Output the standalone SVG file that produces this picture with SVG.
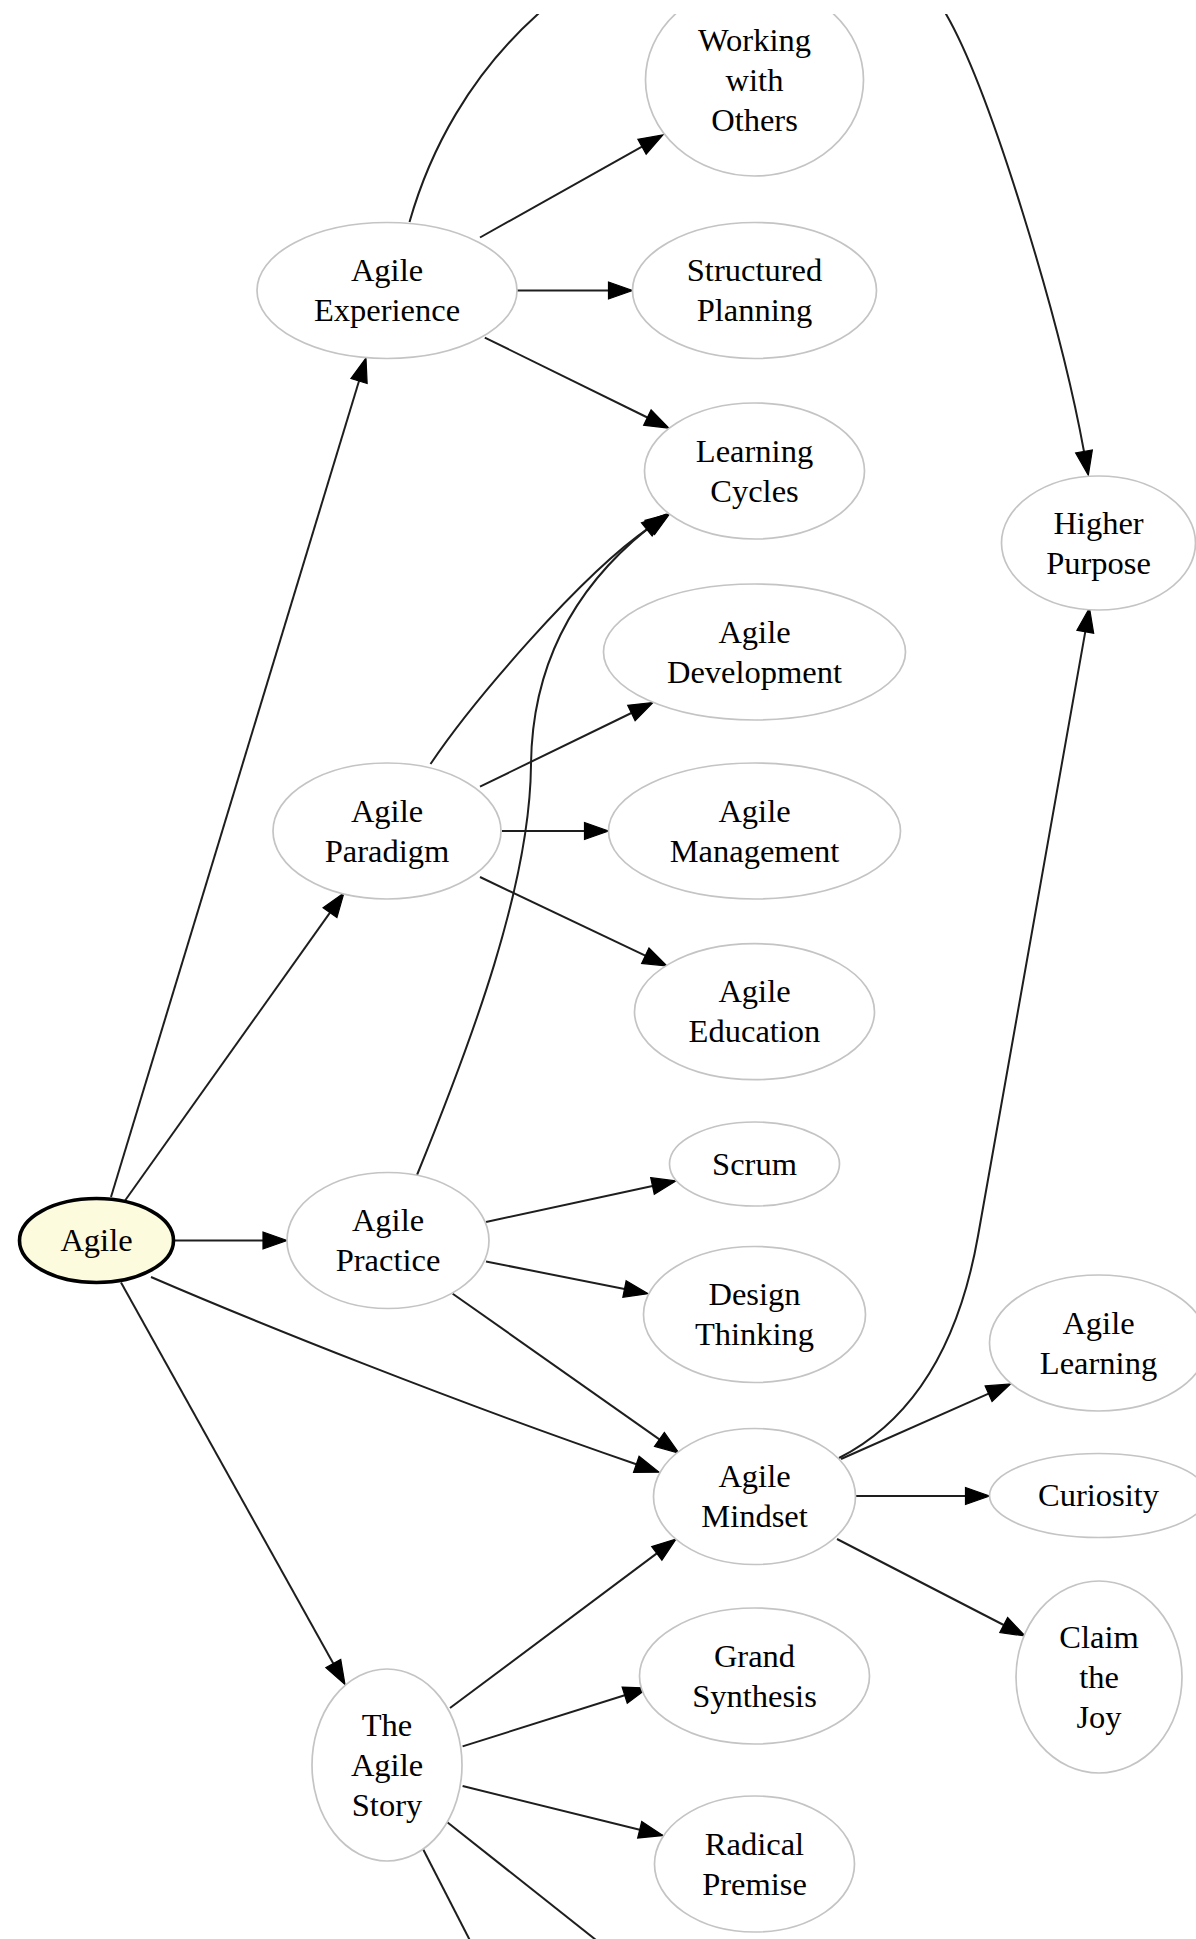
<svg xmlns="http://www.w3.org/2000/svg" width="1196" height="1939" viewBox="0 0 1196 1939">
  <style>
    .node ellipse { fill: #ffffff; stroke: #c4c4c4; stroke-width: 1.7; }
    .node.root ellipse { fill: #fdfbdd; stroke: #000000; stroke-width: 3.6; }
    .node text { font-family: "Liberation Serif", "Times New Roman", serif; font-size: 32.5px; fill: #000000; text-anchor: middle; }
    .edge { fill: none; stroke: #1e1e1e; stroke-width: 2; }
    .edge.arrow { marker-end: url(#ah); }
  </style>
  <defs>
    <marker id="ah" viewBox="0 0 24 17" refX="0" refY="8.5" markerWidth="24" markerHeight="17" markerUnits="userSpaceOnUse" orient="auto" overflow="visible">
      <path d="M0,0 L24,8.5 L0,17 Z" fill="#000000" stroke="#000000" stroke-width="1.2" stroke-linejoin="miter"/>
    </marker>
    <clipPath id="page">
      <rect x="0" y="14" width="1196" height="1925"/>
    </clipPath>
  </defs>
  <rect x="0" y="0" width="1196" height="1939" fill="#ffffff"/>

  <g clip-path="url(#page)">
    <!-- connectors -->
    <g id="edges">
      <path class="edge arrow" d="M111,1197 L359,381"/>
      <path class="edge arrow" d="M124,1202 L330,912.6"/>
      <path class="edge arrow" d="M173.5,1240.5 L263,1240.5"/>
      <path class="edge arrow" d="M151,1277 C260,1324 450,1400 636.3,1464.3"/>
      <path class="edge arrow" d="M121,1282.6 L333.3,1663.5"/>
      <path class="edge arrow" d="M480,237.5 L642,146.7"/>
      <path class="edge arrow" d="M517,290.5 L608.5,290.5"/>
      <path class="edge arrow" d="M484.8,337.6 L647.4,417.5"/>
      <!-- long arc over the top of the sheet -->
      <path class="edge arrow" d="M409.5,222 C430,150 470,75 538,14 C568,-13 926,-21 946,14 C990,90 1060,320 1084,451.5"/>
      <path class="edge arrow" d="M430.5,764 C470,705 580,575 649.8,527.4"/>
      <path class="edge arrow" d="M480,786.6 L631.4,713"/>
      <path class="edge arrow" d="M502,831 L584.5,831"/>
      <path class="edge arrow" d="M480,877 L645.3,955.7"/>
      <path class="edge arrow" d="M417,1175 C472,1040 530,885 531,765 C532,660 578,585 646.8,529.4"/>
      <path class="edge arrow" d="M486,1222 L652.5,1186"/>
      <path class="edge arrow" d="M486,1261.5 L624.5,1289"/>
      <path class="edge arrow" d="M452.7,1293.7 L659.4,1439.4"/>
      <path class="edge arrow" d="M839,1458 C920.8,1416.4 960.6,1334.5 978,1236 L1085.3,631.7"/>
      <path class="edge arrow" d="M841,1459 L988.6,1393.7"/>
      <path class="edge arrow" d="M855.8,1496 L965.5,1496"/>
      <path class="edge arrow" d="M837,1539 L1003.7,1625"/>
      <path class="edge arrow" d="M450,1708 L656.8,1553.4"/>
      <path class="edge arrow" d="M462.6,1746.4 L624.7,1695.2"/>
      <path class="edge arrow" d="M462.6,1786 L639.7,1829.7"/>
      <path class="edge" d="M423,1849 L480,1960"/>
      <path class="edge" d="M447,1822 L620,1959"/>
    </g>

    <!-- nodes -->
    <g id="node-agile" class="node root">
      <ellipse cx="96.5" cy="1240.5" rx="77" ry="42"/>
      <text x="96.5" y="1251">Agile</text>
    </g>
    <g id="node-agile-experience" class="node">
      <ellipse cx="387" cy="290.5" rx="130" ry="68"/>
      <text x="387" y="281">Agile</text>
      <text x="387" y="321">Experience</text>
    </g>
    <g id="node-agile-paradigm" class="node">
      <ellipse cx="387" cy="831" rx="114" ry="68"/>
      <text x="387" y="821.5">Agile</text>
      <text x="387" y="861.5">Paradigm</text>
    </g>
    <g id="node-agile-practice" class="node">
      <ellipse cx="388" cy="1240.5" rx="101" ry="68"/>
      <text x="388" y="1231">Agile</text>
      <text x="388" y="1271">Practice</text>
    </g>
    <g id="node-the-agile-story" class="node">
      <ellipse cx="387" cy="1765" rx="75" ry="96"/>
      <text x="387" y="1735.5">The</text>
      <text x="387" y="1775.5">Agile</text>
      <text x="387" y="1815.5">Story</text>
    </g>
    <g id="node-working-with-others" class="node">
      <ellipse cx="754.5" cy="80" rx="109" ry="96"/>
      <text x="754.5" y="50.5">Working</text>
      <text x="754.5" y="90.5">with</text>
      <text x="754.5" y="130.5">Others</text>
    </g>
    <g id="node-structured-planning" class="node">
      <ellipse cx="754.5" cy="290.5" rx="122" ry="68"/>
      <text x="754.5" y="281">Structured</text>
      <text x="754.5" y="321">Planning</text>
    </g>
    <g id="node-learning-cycles" class="node">
      <ellipse cx="754.5" cy="471" rx="110" ry="68"/>
      <text x="754.5" y="461.5">Learning</text>
      <text x="754.5" y="501.5">Cycles</text>
    </g>
    <g id="node-agile-development" class="node">
      <ellipse cx="754.5" cy="652" rx="151" ry="68"/>
      <text x="754.5" y="642.5">Agile</text>
      <text x="754.5" y="682.5">Development</text>
    </g>
    <g id="node-agile-management" class="node">
      <ellipse cx="754.5" cy="831" rx="146" ry="68"/>
      <text x="754.5" y="821.5">Agile</text>
      <text x="754.5" y="861.5">Management</text>
    </g>
    <g id="node-agile-education" class="node">
      <ellipse cx="754.5" cy="1011.7" rx="120" ry="68"/>
      <text x="754.5" y="1002.2">Agile</text>
      <text x="754.5" y="1042.2">Education</text>
    </g>
    <g id="node-scrum" class="node">
      <ellipse cx="754.5" cy="1164" rx="85" ry="42"/>
      <text x="754.5" y="1174.5">Scrum</text>
    </g>
    <g id="node-design-thinking" class="node">
      <ellipse cx="754.5" cy="1314.5" rx="111" ry="68"/>
      <text x="754.5" y="1305">Design</text>
      <text x="754.5" y="1345">Thinking</text>
    </g>
    <g id="node-agile-mindset" class="node">
      <ellipse cx="754.5" cy="1496.5" rx="101" ry="68"/>
      <text x="754.5" y="1487">Agile</text>
      <text x="754.5" y="1527">Mindset</text>
    </g>
    <g id="node-grand-synthesis" class="node">
      <ellipse cx="754.5" cy="1676" rx="115" ry="68"/>
      <text x="754.5" y="1666.5">Grand</text>
      <text x="754.5" y="1706.5">Synthesis</text>
    </g>
    <g id="node-radical-premise" class="node">
      <ellipse cx="754.5" cy="1864" rx="100" ry="68"/>
      <text x="754.5" y="1854.5">Radical</text>
      <text x="754.5" y="1894.5">Premise</text>
    </g>
    <g id="node-higher-purpose" class="node">
      <ellipse cx="1098.5" cy="543" rx="97" ry="67"/>
      <text x="1098.5" y="533.5">Higher</text>
      <text x="1098.5" y="573.5">Purpose</text>
    </g>
    <g id="node-agile-learning" class="node">
      <ellipse cx="1098.5" cy="1343" rx="109" ry="68"/>
      <text x="1098.5" y="1333.5">Agile</text>
      <text x="1098.5" y="1373.5">Learning</text>
    </g>
    <g id="node-curiosity" class="node">
      <ellipse cx="1098.5" cy="1495.5" rx="109" ry="42"/>
      <text x="1098.5" y="1506">Curiosity</text>
    </g>
    <g id="node-claim-the-joy" class="node">
      <ellipse cx="1099" cy="1677" rx="83" ry="96"/>
      <text x="1099" y="1647.5">Claim</text>
      <text x="1099" y="1687.5">the</text>
      <text x="1099" y="1727.5">Joy</text>
    </g>
  </g>
</svg>
